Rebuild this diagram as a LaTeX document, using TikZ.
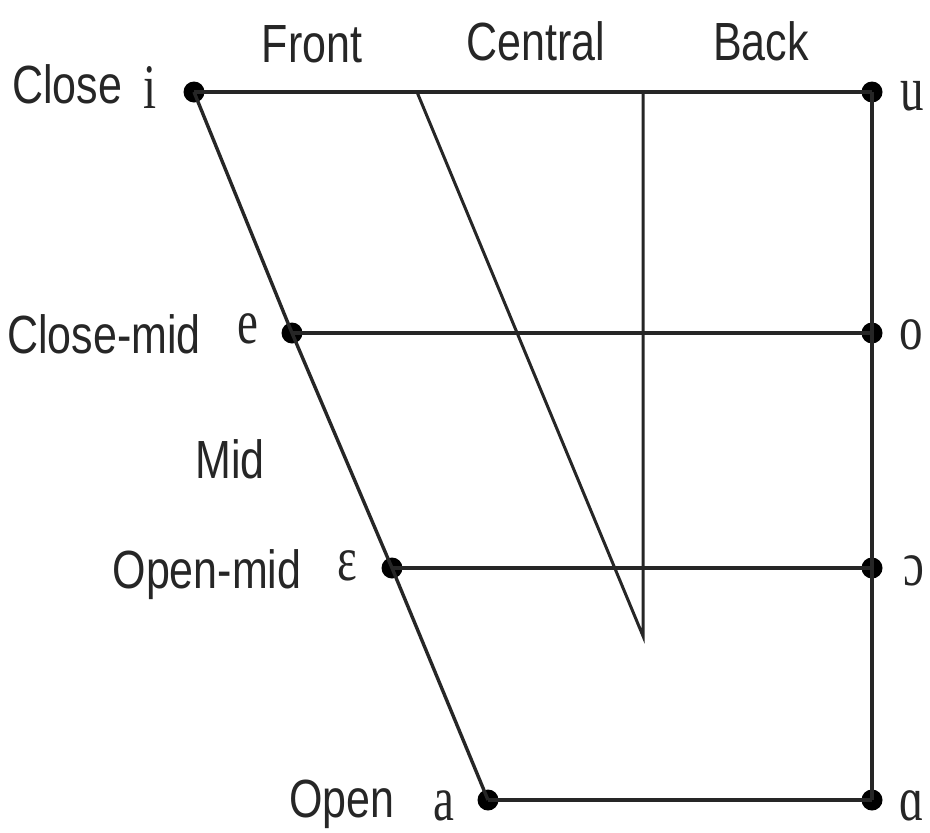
\documentclass[tikz,border=0pt]{standalone}
\usepackage{fontspec}
\setmainfont{Liberation Sans}
\newfontfamily\ipafont{Liberation Serif}
\newcommand{\lbltext}[1]{\scalebox{1}[1.25]{#1}}
\newcommand{\voweltext}[1]{\scalebox{1}[1.35]{\ipafont #1}}
\begin{document}
\begin{tikzpicture}[x=1pt,y=-1pt,
  dotpt/.style={circle,fill=black,inner sep=0pt,minimum size=21pt},
  edge/.style={line width=4pt,black!85},
  lbl/.style={anchor=base,inner sep=0pt,font=\fontsize{43}{43}\selectfont,text=black!85},
  vow/.style={anchor=base,inner sep=0pt,font=\fontsize{47}{47}\selectfont,text=black!85}]
\useasboundingbox (0,0) rectangle (930,833);
% vowel points
\node[dotpt] (i) at (194,92) {};
\node[dotpt] (u) at (872,92) {};
\node[dotpt] (e) at (292,333) {};
\node[dotpt] (o) at (872,333) {};
\node[dotpt] (eps) at (392,568) {};
\node[dotpt] (oo) at (872,568) {};
\node[dotpt] (a) at (488,800) {};
\node[dotpt] (aa) at (872,800) {};
\coordinate (ctop) at (417,92);
\coordinate (vtop) at (643,92);
\coordinate (vbot) at (643,636);
% lines
\draw[edge] (i.center) -- (u.center);
\draw[edge] (e.center) -- (o.center);
\draw[edge] (eps.center) -- (oo.center);
\draw[edge] (a.center) -- (aa.center);
\draw[edge,line width=3.4pt] (i.center) -- (e.center) -- (eps.center) -- (a.center);
\draw[edge,line width=3.4pt] (u.center) -- (o.center) -- (oo.center) -- (aa.center);
\draw[edge,line width=3pt,line join=miter] (ctop) -- (vbot) -- (vtop);
% column labels
\node[lbl] (front) at (312,62) {\lbltext{Front}};
\node[lbl] (central) at (536,60) {\lbltext{Central}};
\node[lbl] (back) at (761,60) {\lbltext{Back}};
% row labels
\node[lbl] (close) at (67,103) {\lbltext{Close}};
\node[lbl] (closemid) at (104,353) {\lbltext{Close-mid}};
\node[lbl] (mid) at (230,478) {\lbltext{Mid}};
\node[lbl] (openmid) at (207,588) {\lbltext{Open-mid}};
\node[lbl] (open) at (342,817) {\lbltext{Open}};
% vowel symbols
\node[vow] (si) at (150,108) {\voweltext{i}};
\node[vow] (se) at (248,343) {\voweltext{e}};
\node[vow] (seps) at (347,580) {\voweltext{ɛ}};
\node[vow] (sa) at (444,820) {\voweltext{a}};
\node[vow] (su) at (912,110) {\voweltext{u}};
\node[vow] (so) at (911,349) {\voweltext{o}};
\node[vow] (soo) at (914,585) {\voweltext{ɔ}};
\node[vow] (saa) at (912,820) {\voweltext{ɑ}};
\end{tikzpicture}
\end{document}
